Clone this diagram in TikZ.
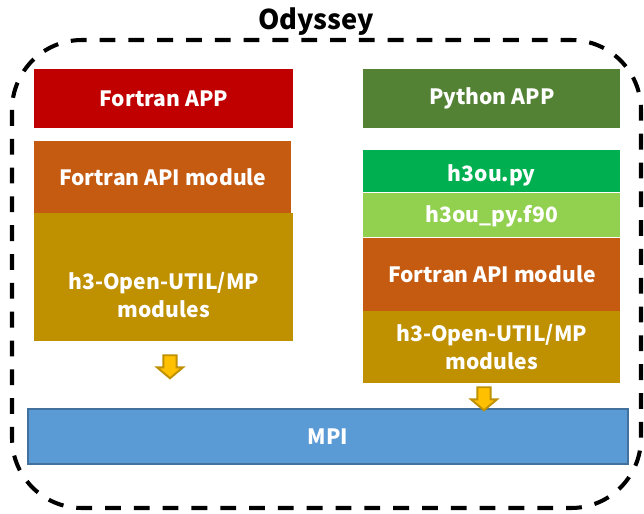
\documentclass[tikz,border=0pt]{standalone}
\usepackage{fontspec}
\setmainfont{Noto Sans CJK JP}
\usetikzlibrary{positioning,shapes.arrows}

\definecolor{appred}{HTML}{C00000}
\definecolor{appgreen}{HTML}{548235}
\definecolor{apiorange}{HTML}{C55A11}
\definecolor{modgold}{HTML}{BF9000}
\definecolor{pygreen}{HTML}{00B050}
\definecolor{f90green}{HTML}{92D050}
\definecolor{mpiblue}{HTML}{5B9BD5}
\definecolor{mpiedge}{HTML}{41719C}
\definecolor{arrowfill}{HTML}{FFC000}

\tikzset{
  layertext/.style={inner sep=0pt, text=white, align=center,
                    font=\fontsize{12}{16}\selectfont\bfseries},
  layer/.style={layertext, rectangle, anchor=north west},
  downarrow/.style={single arrow, shape border rotate=270, fill=arrowfill,
                    draw=modgold, line width=1.1pt, inner sep=3.2pt,
                    minimum height=0.46cm, single arrow head extend=3.6pt,
                    single arrow tip angle=100},
}

\begin{document}
\begin{tikzpicture}[x=0.02cm,y=-0.02cm]
  \useasboundingbox (0,0) rectangle (644,513);

  % frame
  \draw[line width=2.3pt, dash pattern=on 9pt off 7.4pt, rounded corners=1.4cm]
    (12,40) rectangle (641,508);
  \node[font=\fontsize{15.5}{18}\selectfont\bfseries] (title) at (316,22) {Odyssey};

  % Fortran side
  \node[layer, fill=appred, minimum width=5.18cm, minimum height=1.18cm]
       (fapp) at (34,69) {Fortran APP};
  \node[layer, fill=apiorange, minimum width=5.14cm, minimum height=1.44cm]
       (fapi) at (34,141) {Fortran API module};
  \node[layer, fill=modgold, minimum width=5.18cm, minimum height=2.56cm]
       (fmod) at (34,213) {};
  \node[layertext] (fmodtext) at ([yshift=-0.36cm]fmod.center) {h3-Open-UTIL/MP\\modules};

  % Python side
  \node[layer, fill=appgreen, minimum width=5.14cm, minimum height=1.18cm]
       (papp) at (363,69) {Python APP};
  \node[layer, fill=pygreen, minimum width=5.14cm, minimum height=0.84cm,
        text height=0.5cm]
       (pyh) at (363,150) {h3ou.py};
  \node[layer, fill=f90green, minimum width=5.14cm, minimum height=0.88cm,
        text height=0.4cm]
       (pyf) [below=0pt of pyh.south west, anchor=north west] {h3ou\_py.f90};
  \node[layer, fill=apiorange, minimum width=5.14cm, minimum height=1.46cm]
       (papi) [below=0pt of pyf.south west, anchor=north west] {Fortran API module};
  \node[layer, fill=modgold, minimum width=5.14cm, minimum height=1.44cm]
       (pmod) [below=0pt of papi.south west, anchor=north west] {h3-Open-UTIL/MP\\modules};

  % MPI
  \node[layer, fill=mpiblue, draw=mpiedge, line width=1pt,
        minimum width=12cm, minimum height=1.1cm] (mpi) at (27,408) {MPI};

  % arrows
  \node[downarrow] (fdown) at (170,364) {};
  \node[downarrow] (pdown) at (484,396) {};
\end{tikzpicture}
\end{document}
